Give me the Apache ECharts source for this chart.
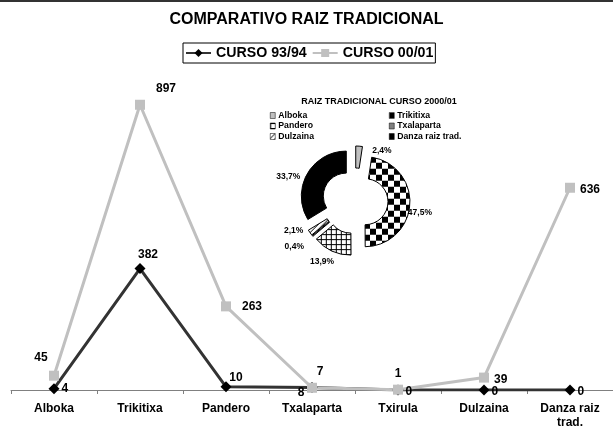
<!DOCTYPE html>
<html>
<head>
<meta charset="utf-8">
<script src="https://cdn.jsdelivr.net/npm/echarts@6/dist/echarts.min.js"></script>
<style>
  html, body { margin: 0; padding: 0; background: #fff; }
  #chart { width: 613px; height: 432px; }
</style>
</head>
<body>
<div id="chart"></div>
<script>
const categories = ['Alboka', 'Trikitixa', 'Pandero', 'Txalaparta', 'Txirula', 'Dulzaina', 'Danza raiz\ntrad.'];
const curso9394 = [4, 382, 10, 8, 0, 0, 0];
const curso0001 = [45, 897, 263, 7, 1, 39, 636];

const pieNames = ['Alboka', 'Trikitixa', 'Pandero', 'Txalaparta', 'Dulzaina', 'Danza raiz trad.'];
const pieValues = [45, 897, 263, 7, 39, 636];

const FONT = '"Liberation Sans", Arial, sans-serif';

// little fill patterns like the old excel ones
function pattern(kind) {
  const c = document.createElement('canvas');
  const s = kind === 'checker' ? 12 : 5;
  c.width = s; c.height = s;
  const g = c.getContext('2d');
  g.fillStyle = '#fff';
  g.fillRect(0, 0, s, s);
  g.fillStyle = '#000';
  if (kind === 'checker') {
    g.fillRect(0, 0, 6, 6);
    g.fillRect(6, 6, 6, 6);
  } else if (kind === 'grid') {
    g.fillRect(0, 0, s, 1);
    g.fillRect(0, 0, 1, s);
  } else {
    g.strokeStyle = '#000';
    g.lineWidth = 1;
    g.beginPath();
    g.moveTo(0, s); g.lineTo(s, 0);
    g.stroke();
  }
  return { image: c, repeat: 'repeat' };
}

const pieColors = ['#c0c0c0', pattern('checker'), pattern('grid'), '#808080', pattern('diag'), '#000'];

// label placement per point: [position, dx, dy]
const lab9394 = [['right', 0, 0], ['top', 8, 0], ['top', 10, 4], ['left', 0, 5], ['right', 0, 2], ['right', 0, 2], ['right', 0, 2]];
const lab0001 = [['top', -13, -2], ['top', 26, 0], ['right', 6, 0], ['top', 8, 0], ['top', 0, 0], ['right', 0, 2], ['right', 0, 2]];
// nudges for the doughnut percent labels
const pieLabelShift = [[8, 6], [-9, 8], [8, 9], [-2, 9], [0, -3], [0, 4]];

function withLabels(values, labs, dist) {
  return values.map((v, i) => ({
    value: v,
    label: { position: labs[i][0], offset: [labs[i][1], labs[i][2]], distance: dist }
  }));
}

var myChart = echarts.init(document.getElementById('chart'));

const pieLegend = {
  orient: 'vertical', top: 106,
  icon: 'rect',
  itemGap: 1.5, itemWidth: 5, itemHeight: 6,
  selectedMode: false,
  itemStyle: { borderColor: '#000', borderWidth: 0.5 },
  textStyle: { fontSize: 8.7, fontWeight: 'bold', color: '#000', fontFamily: FONT, lineHeight: 8.5, padding: [0, 0, 0, -2] }
};

myChart.setOption({
  animation: false,
  textStyle: { fontFamily: FONT },
  title: [
    {
      text: 'COMPARATIVO RAIZ TRADICIONAL',
      left: 'center', top: 7,
      textStyle: { fontSize: 16, fontWeight: 'bold', color: '#000', fontFamily: FONT }
    },
    {
      text: 'RAIZ TRADICIONAL CURSO 2000/01',
      left: 374, top: 92, textAlign: 'center',
      textStyle: { fontSize: 9, fontWeight: 'bold', color: '#000', fontFamily: FONT }
    }
  ],
  legend: [
    {
      data: ['CURSO 93/94', 'CURSO 00/01'],
      left: 183, top: 43,
      itemGap: 5, itemWidth: 25, itemHeight: 10,
      padding: [3, 2],
      borderColor: '#000', borderWidth: 1,
      selectedMode: false,
      textStyle: { fontSize: 14.2, fontWeight: 'bold', color: '#000', fontFamily: FONT }
    },
    Object.assign({ data: ['Alboka', 'Pandero', 'Dulzaina'], left: 265 }, pieLegend),
    Object.assign({ data: ['Trikitixa', 'Txalaparta', 'Danza raiz trad.'], left: 384 }, pieLegend)
  ],
  graphic: [
    { type: 'rect', left: 0, top: 0, shape: { width: 613, height: 2 }, style: { fill: '#333' } }
  ],
  grid: { left: 11, right: 0, top: 72, bottom: 42 },
  xAxis: {
    type: 'category',
    data: categories,
    boundaryGap: true,
    axisLine: { lineStyle: { color: '#808080', width: 1 } },
    axisTick: { show: true, length: 4, lineStyle: { color: '#808080' } },
    axisLabel: {
      interval: 0, margin: 12,
      fontSize: 12, fontWeight: 'bold', color: '#000', fontFamily: FONT, lineHeight: 14
    }
  },
  yAxis: {
    type: 'value', min: 0, max: 1000,
    show: false,
    splitLine: { show: false }
  },
  series: [
    {
      name: 'CURSO 93/94',
      type: 'line',
      data: withLabels(curso9394, lab9394, 2),
      symbol: 'diamond', symbolSize: 11,
      lineStyle: { color: '#333', width: 3 },
      itemStyle: { color: '#000' },
      label: { show: true, fontSize: 12, fontWeight: 'bold', color: '#000', fontFamily: FONT }
    },
    {
      name: 'CURSO 00/01',
      type: 'line',
      data: withLabels(curso0001, lab0001, 5),
      symbol: 'rect', symbolSize: 10,
      lineStyle: { color: '#c0c0c0', width: 3 },
      itemStyle: { color: '#c0c0c0' },
      label: { show: true, fontSize: 12, fontWeight: 'bold', color: '#000', fontFamily: FONT }
    },
    {
      name: 'RAIZ TRADICIONAL CURSO 2000/01',
      type: 'pie',
      center: [355, 201],
      radius: [23, 45],
      startAngle: 90,
      clockwise: true,
      selectedMode: 'multiple',
      selectedOffset: 10,
      avoidLabelOverlap: false,
      itemStyle: { borderColor: '#000', borderWidth: 1 },
      emphasis: { scale: false },
      label: {
        position: 'outside',
        fontSize: 8.5, fontWeight: 'bold', color: '#000', fontFamily: FONT,
        formatter: p => p.percent.toFixed(1).replace('.', ',') + '%'
      },
      labelLine: { show: false, length: 2, length2: 0 },
      labelLayout: p => ({ dx: pieLabelShift[p.dataIndex][0], dy: pieLabelShift[p.dataIndex][1], hideOverlap: false }),
      data: pieNames.map((n, i) => ({
        name: n, value: pieValues[i], selected: true,
        itemStyle: { color: pieColors[i] }
      }))
    }
  ]
});
</script>
</body>
</html>
